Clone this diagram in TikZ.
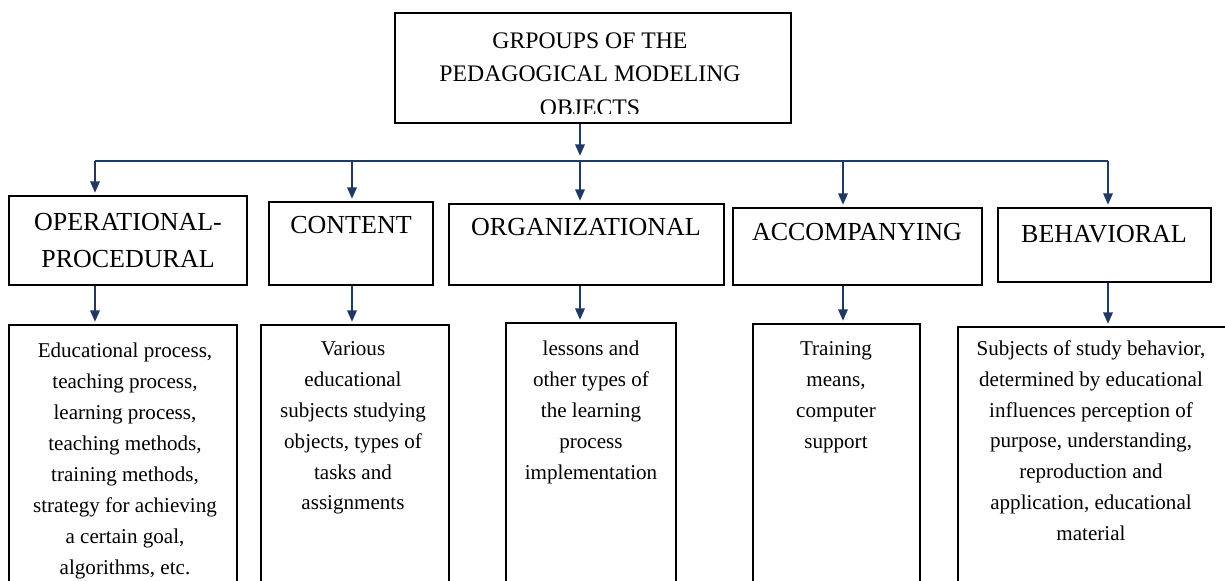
\documentclass[tikz,border=0pt]{standalone}
\usepackage{fontspec}
\setmainfont{Liberation Serif}
\usetikzlibrary{arrows.meta}
\definecolor{linkblue}{RGB}{31,56,100}

\begin{document}
\begin{tikzpicture}[x=0.02cm,y=-0.02cm,
    >={Triangle[length=6.5pt,width=5.5pt]},
    link/.style={->,line width=0.85pt,draw=linkblue,shorten >=1.5pt},
    title/.style={font=\fontsize{13.5}{19.3}\selectfont},
    heading/.style={font=\fontsize{14.8}{21}\selectfont},
    detail/.style={font=\fontsize{12}{17.6}\selectfont}]
    \useasboundingbox (0,0) rectangle (1225,581);
    \clip (0,0) rectangle (1225,581);

    \begin{scope}[line width=0.75pt]
      \tikzstyle{every node}=[draw]
      \node[minimum width=7.92cm,minimum height=2.2cm]  (G)   at (593,68)    {};
      \node[minimum width=4.76cm,minimum height=1.78cm] (OP)  at (128,240.5) {};
      \node[minimum width=3.28cm,minimum height=1.66cm] (CO)  at (351,243.5) {};
      \node[minimum width=5.5cm, minimum height=1.62cm] (OR)  at (586.5,244.5) {};
      \node[minimum width=4.98cm,minimum height=1.54cm] (AC)  at (857.5,246.5) {};
      \node[minimum width=4.26cm,minimum height=1.48cm] (BE)  at (1104.5,245) {};
      \node[minimum width=4.56cm,minimum height=5.9cm]  (OPd) at (123,472.5) {};
      \node[minimum width=3.76cm,minimum height=5.9cm]  (COd) at (355,472.5) {};
      \node[minimum width=3.4cm, minimum height=5.94cm] (ORd) at (591,471.5) {};
      \node[minimum width=3.34cm,minimum height=5.92cm] (ACd) at (836.5,472) {};
      \node[minimum width=5.44cm,minimum height=5.86cm] (BEd) at (1094,473.5) {};
    \end{scope}

    \begin{scope}[every node/.style={anchor=north,align=center,inner sep=0pt}]
      \begin{scope}
        \clip (395,13) rectangle (791,114);
        \node[title] (Gt) at (590,32) {GRPOUPS OF THE\\PEDAGOGICAL MODELING\\OBJECTS};
      \end{scope}
      \node[heading] (OPt) at (128,213)  {OPERATIONAL-\\PROCEDURAL};
      \node[heading] (COt) at (351,216)  {CONTENT};
      \node[heading] (ORt) at (586,218)  {ORGANIZATIONAL};
      \node[heading] (ACt) at (857,223)  {ACCOMPANYING};
      \node[heading] (BEt) at (1104,225) {BEHAVIORAL};

      \node[detail] (OPdt) at (125,343) {Educational process,\\teaching process,\\learning process,\\teaching methods,\\training methods,\\strategy for achieving\\a certain goal,\\algorithms, etc.};
      \node[detail] (COdt) at (353,341) {Various\\educational\\subjects studying\\objects, types of\\tasks and\\assignments};
      \node[detail] (ORdt) at (591,341) {lessons and\\other types of\\the learning\\process\\implementation};
      \node[detail] (ACdt) at (836,341) {Training\\means,\\computer\\support};
      \node[detail] (BEdt) at (1091,340) {Subjects of study behavior,\\determined by educational\\influences perception of\\purpose, understanding,\\reproduction and\\application, educational\\material};
    \end{scope}

    \coordinate (c1) at (95,161);
    \coordinate (c2) at (352,161);
    \coordinate (c3) at (580,161);
    \coordinate (c4) at (843,161);
    \coordinate (c5) at (1108,161);

    \draw[link,shorten >=3pt] (G.south -| c3) -> (c3);
    \draw[line width=0.85pt,linkblue] (c1) -- (c5);
    \foreach \c/\a/\b in {c1/OP/OPd,c2/CO/COd,c3/OR/ORd,c4/AC/ACd,c5/BE/BEd} {
      \draw[link] (\c) -> (\c |- \a.north);
      \draw[link] (\c |- \a.south) -> (\c |- \b.north);
    }
  \end{tikzpicture}
\end{document}
